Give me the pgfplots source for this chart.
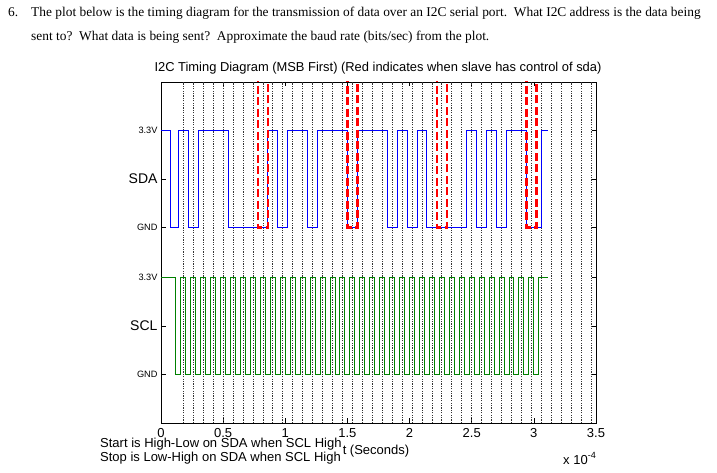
\documentclass[border=0pt]{standalone}
\usepackage{pgfplots}
\pgfplotsset{compat=1.18}
\usepackage{fontspec}
\setmainfont{Liberation Sans}
\newfontfamily\timesfont{Liberation Serif}
\begin{document}
\begin{tikzpicture}[x=1pt,y=1pt]
\useasboundingbox (0,0) rectangle (717,473);
\node[anchor=base west, inner sep=0pt, font=\timesfont\fontsize{13.4}{15}\selectfont] at (8,456) {6.};
\node[anchor=base west, inner sep=0pt, font=\timesfont\fontsize{13.4}{15}\selectfont] at (31,456) {The plot below is the timing diagram for the transmission of data over an I2C serial port.\ \ What I2C address is the data being};
\node[anchor=base west, inner sep=0pt, font=\timesfont\fontsize{13.4}{15}\selectfont] at (31,432) {sent to?\ \ What data is being sent?\ \ Approximate the baud rate (bits/sec) from the plot.};
\begin{axis}[
  at={(161pt,50pt)}, anchor=south west, scale only axis,
  width=435pt, height=341pt,
  xmin=0, xmax=3.5, ymin=-1.65, ymax=9.95,
  axis line style={black, line width=0.8pt},
  major tick length=4.5pt,
  tick style={black, line width=0.6pt},
  xtick={0,0.5,1,1.5,2,2.5,3,3.5},
  xticklabels={0,0.5,1,1.5,2,2.5,3,3.5},
  ytick={0,1.65,3.3,5,6.65,8.3},
  yticklabels={{\fontsize{9.2}{10}\selectfont GND},{\fontsize{14}{16}\selectfont SCL\hspace{6pt}},{\fontsize{9.2}{10}\selectfont 3.3V},{\fontsize{9.2}{10}\selectfont GND},{\fontsize{14}{16}\selectfont SDA\hspace{6pt}},{\fontsize{9.2}{10}\selectfont 3.3V}},
  ticklabel style={font=\fontsize{13}{15}\selectfont},
  xticklabel style={yshift=-2pt},
  /pgf/number format/assume math mode=true,
  scaled ticks=false,
  extra x ticks={0.18,0.26,0.34,0.42,0.50,0.58,0.66,0.74,0.82,0.90,0.98,1.06,1.14,1.22,1.30,1.38,1.46,1.54,1.62,1.70,1.78,1.86,1.94,2.02,2.10,2.18,2.26,2.34,2.42,2.50,2.58,2.66,2.74,2.82,2.90,2.98,3.06,3.14,3.22,3.30,3.38,3.46},
  extra x tick labels={},
  extra x tick style={grid=major, major tick length=0pt, major grid style={black!80, line width=0.8pt, dash pattern=on 1.2pt off 1.2pt}},
  clip=true,
]
% SDA (offset 5)
\addplot[blue, line width=1pt, const plot] coordinates {
(0,8.3) (0.08,5) (0.14,8.3) (0.22,5) (0.30,8.3) (0.54,5) (0.86,8.3) (0.94,5) (1.02,8.3) (1.18,5) (1.26,8.3) (1.50,5) (1.58,8.3) (1.82,5) (1.90,8.3) (1.98,5) (2.06,8.3) (2.14,5) (2.46,8.3) (2.54,5) (2.62,8.3) (2.70,5) (2.78,8.3) (2.94,5) (3.06,8.3) (3.11,8.3)};
% SCL
\addplot[green!50!black, line width=1pt, const plot] coordinates {
(0,3.3) (0.12,0) (0.16,3.3) (0.20,0) (0.24,3.3) (0.28,0) (0.32,3.3) (0.36,0) (0.40,3.3) (0.44,0) (0.48,3.3) (0.52,0) (0.56,3.3) (0.60,0) (0.64,3.3) (0.68,0) (0.72,3.3) (0.76,0) (0.80,3.3) (0.84,0) (0.88,3.3) (0.92,0) (0.96,3.3) (1.00,0) (1.04,3.3) (1.08,0) (1.12,3.3) (1.16,0) (1.20,3.3) (1.24,0) (1.28,3.3) (1.32,0) (1.36,3.3) (1.40,0) (1.44,3.3) (1.48,0) (1.52,3.3) (1.56,0) (1.60,3.3) (1.64,0) (1.68,3.3) (1.72,0) (1.76,3.3) (1.80,0) (1.84,3.3) (1.88,0) (1.92,3.3) (1.96,0) (2.00,3.3) (2.04,0) (2.08,3.3) (2.12,0) (2.16,3.3) (2.20,0) (2.24,3.3) (2.28,0) (2.32,3.3) (2.36,0) (2.40,3.3) (2.44,0) (2.48,3.3) (2.52,0) (2.56,3.3) (2.60,0) (2.64,3.3) (2.68,0) (2.72,3.3) (2.76,0) (2.80,3.3) (2.84,0) (2.88,3.3) (2.92,0) (2.96,3.3) (3.00,0) (3.04,3.3) (3.11,3.3)};
% slave (ACK) windows
\addplot[red, line width=2.6pt, dash pattern=on 8pt off 3.5pt] coordinates {(0.78,11) (0.78,5) (0.86,5) (0.86,11)};
\addplot[red, line width=2.6pt, dash pattern=on 8pt off 3.5pt] coordinates {(1.50,11) (1.50,5) (1.58,5) (1.58,11)};
\addplot[red, line width=2.6pt, dash pattern=on 8pt off 3.5pt] coordinates {(2.22,11) (2.22,5) (2.30,5) (2.30,11)};
\addplot[red, line width=2.6pt, dash pattern=on 8pt off 3.5pt] coordinates {(2.94,11) (2.94,5) (3.02,5) (3.02,11)};
\end{axis}
\node[font=\fontsize{12.9}{15}\selectfont] at (378,405) {I2C Timing Diagram (MSB First) (Red indicates when slave has control of sda)};
\node[anchor=base, inner sep=0pt, font=\fontsize{13}{15}\selectfont] at (376,18.7) {t (Seconds)};
\node[anchor=base west, inner sep=0pt, font=\fontsize{13}{15}\selectfont] at (100,25.3) {Start is High-Low on SDA when SCL High};
\node[anchor=base west, inner sep=0pt, font=\fontsize{13}{15}\selectfont] at (100,11.3) {Stop is Low-High on SDA when SCL High};
\node[anchor=base west, inner sep=0pt, font=\fontsize{13}{15}\selectfont] at (563,8) {x 10\raisebox{6pt}{\fontsize{9}{10}\selectfont -4}};
\end{tikzpicture}
\end{document}
